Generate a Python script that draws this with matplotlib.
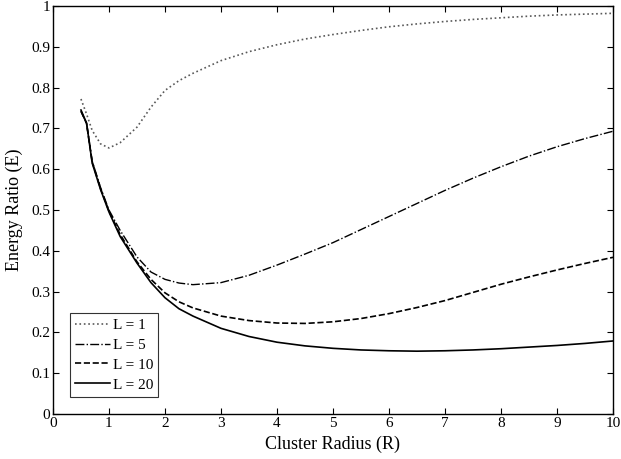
import matplotlib
matplotlib.use("Agg")
import matplotlib.pyplot as plt
import numpy as np

plt.rcParams['font.family'] = ['Liberation Serif', 'DejaVu Serif']

# Cluster radius samples
radius = [0.5, 0.6, 0.7, 0.85, 1.0, 1.2, 1.5, 1.75, 2.0, 2.25, 2.5, 3.0, 3.5, 4.0, 4.5,
          5.0, 5.5, 6.0, 6.5, 7.0, 7.5, 8.0, 8.5, 9.0, 9.5, 10.0]

# Energy ratio for each L
e_l1 = [0.772, 0.735, 0.695, 0.662, 0.652, 0.665, 0.703, 0.752, 0.793, 0.817, 0.835, 0.866,
        0.888, 0.905, 0.919, 0.930, 0.940, 0.949, 0.956, 0.962, 0.967, 0.971,
        0.975, 0.978, 0.980, 0.982]
e_l5 = [0.742, 0.712, 0.620, 0.555, 0.500, 0.450, 0.385, 0.348, 0.330, 0.321, 0.317, 0.322,
        0.340, 0.365, 0.392, 0.420, 0.452, 0.484, 0.516, 0.548, 0.578, 0.606,
        0.632, 0.655, 0.675, 0.693]
e_l10 = [0.742, 0.712, 0.618, 0.552, 0.497, 0.440, 0.373, 0.330, 0.297, 0.275, 0.260, 0.240,
         0.229, 0.223, 0.222, 0.226, 0.234, 0.246, 0.261, 0.278, 0.298, 0.318,
         0.336, 0.353, 0.369, 0.384]
e_l20 = [0.745, 0.713, 0.615, 0.550, 0.495, 0.435, 0.370, 0.322, 0.285, 0.258, 0.240, 0.210,
         0.190, 0.176, 0.167, 0.161, 0.157, 0.155, 0.154, 0.155, 0.157, 0.160,
         0.164, 0.168, 0.173, 0.179]

fig = plt.figure(figsize=(6.21, 4.59), dpi=100)
ax = fig.add_axes([0.0853, 0.098, 0.9018, 0.889])

ax.plot(radius, e_l1, color='0.35', linestyle=':', linewidth=1.2, label='L = 1')
ax.plot(radius, e_l5, color='black', linestyle='-.', linewidth=1.0, label='L = 5')
ax.plot(radius, e_l10, color='black', linestyle='--', linewidth=1.2, label='L = 10')
ax.plot(radius, e_l20, color='black', linestyle='-', linewidth=1.2, label='L = 20')

ax.set_xlim(0, 10)
ax.set_ylim(0, 1)
ax.set_xticks(range(0, 11))
ax.set_yticks(np.arange(0, 1.01, 0.1))
ax.set_yticklabels(['0', '0.1', '0.2', '0.3', '0.4', '0.5', '0.6', '0.7', '0.8', '0.9', '1'])
ax.tick_params(direction='in', top=True, right=True, length=4, width=0.8,
               labelsize=11, pad=2)
for s in ax.spines.values():
    s.set_linewidth(1.0)

ax.set_xlabel('Cluster Radius (R)', fontsize=13, labelpad=4)
ax.set_ylabel('Energy Ratio (E)', fontsize=13, labelpad=6)

leg = ax.legend(loc='lower left', bbox_to_anchor=(0.030, 0.042), fontsize=11,
                frameon=True, fancybox=False, edgecolor='black', handlelength=2.3,
                handletextpad=0.15, borderpad=0.35, labelspacing=0.4, borderaxespad=0)
leg.get_frame().set_linewidth(0.8)

fig.savefig('out.png', dpi=100)
